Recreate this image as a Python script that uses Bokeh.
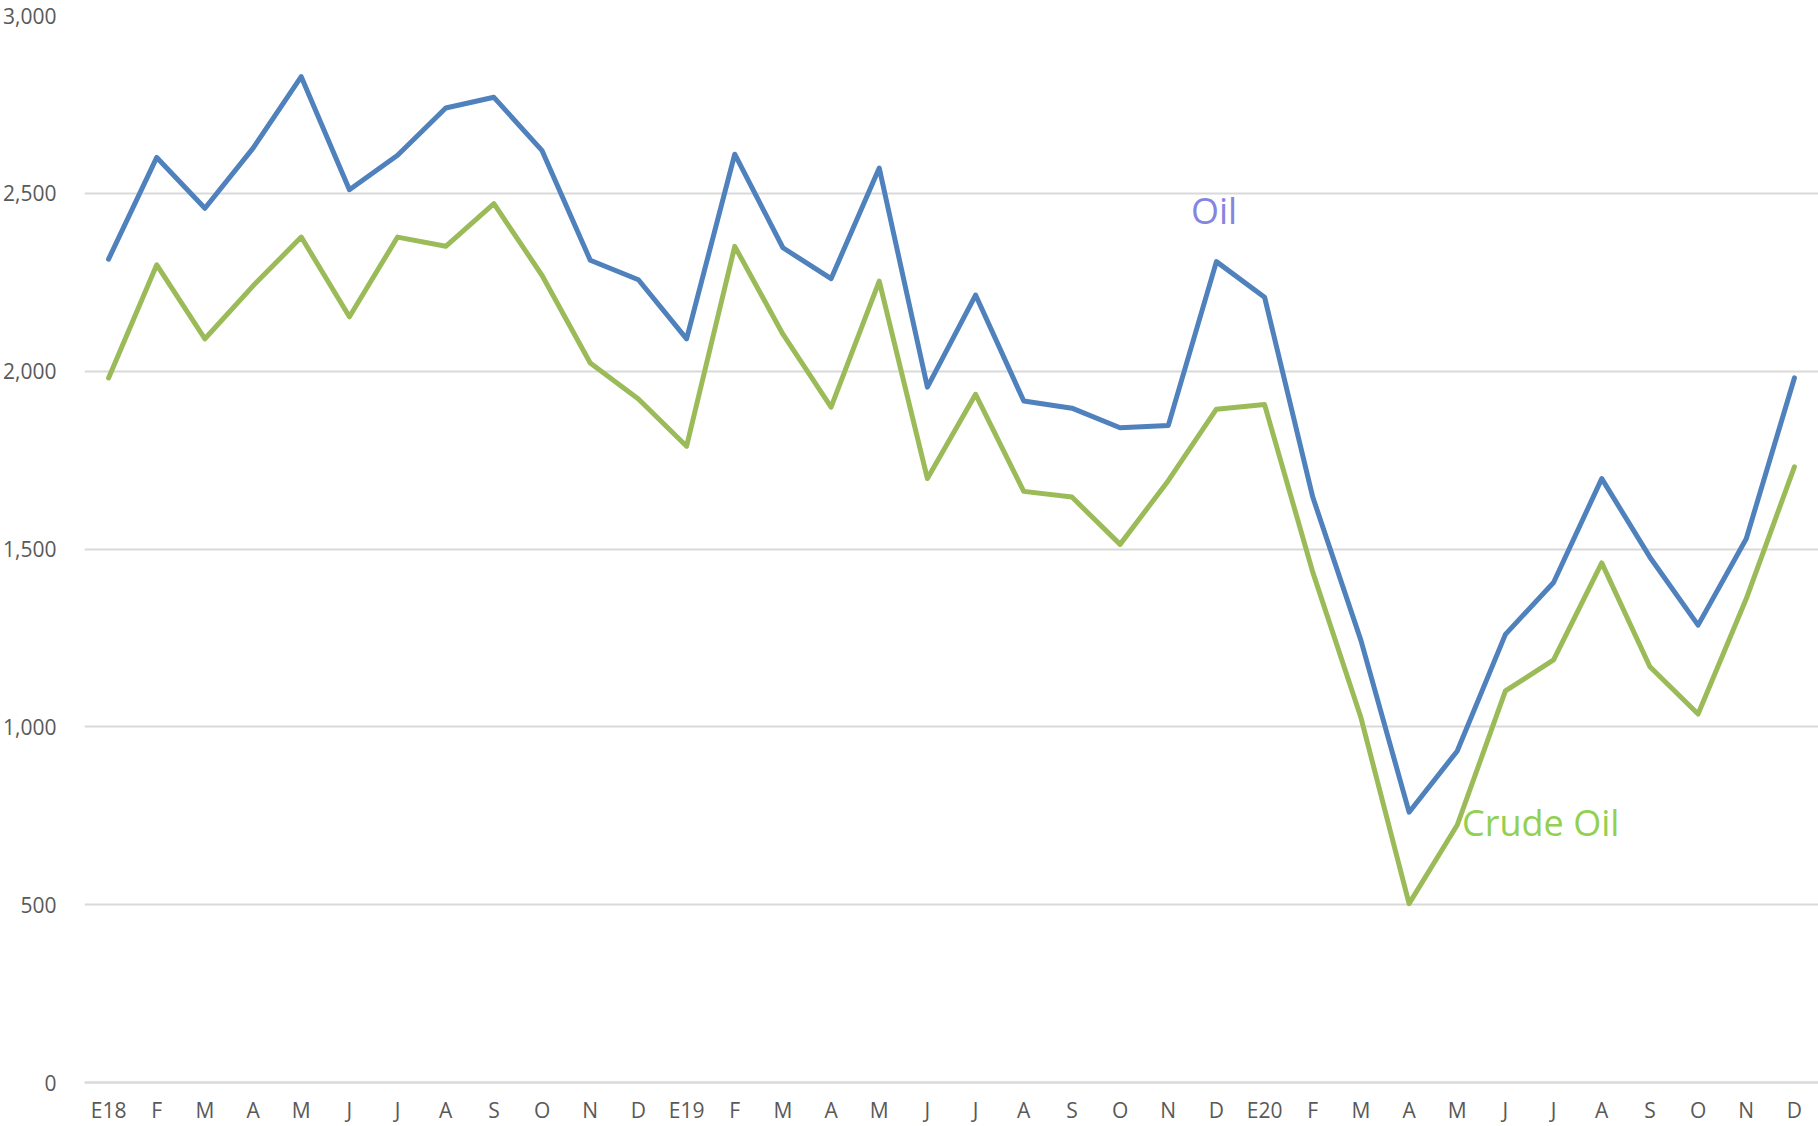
from bokeh.plotting import figure
from bokeh.models import Range1d, FixedTicker, NumeralTickFormatter, ColumnDataSource
from bokeh.core.properties import value
from bokeh.embed import file_html
from bokeh.resources import INLINE

months = ["E18", "F", "M", "A", "M", "J", "J", "A", "S", "O", "N", "D",
          "E19", "F", "M", "A", "M", "J", "J", "A", "S", "O", "N", "D",
          "E20", "F", "M", "A", "M", "J", "J", "A", "S", "O", "N", "D"]

oil = [2315, 2601, 2458, 2627, 2828, 2510, 2607, 2740, 2770, 2620, 2312, 2257,
       2091, 2610, 2347, 2260, 2571, 1955, 2214, 1916, 1896, 1841, 1847, 2308,
       2208, 1646, 1243, 760, 932, 1260, 1406, 1698, 1477, 1286, 1529, 1981]

crude_oil = [1981, 2299, 2091, 2240, 2377, 2153, 2377, 2351, 2471, 2269, 2023, 1922,
             1789, 2351, 2104, 1899, 2253, 1698, 1935, 1662, 1646, 1513, 1692, 1893,
             1906, 1435, 1026, 503, 724, 1101, 1188, 1461, 1169, 1036, 1360, 1731]

y_ticks = [0, 500, 1000, 1500, 2000, 2500, 3000]

idx = list(range(len(months)))
src = ColumnDataSource(dict(x=idx, oil=oil, crude=crude_oil))

FONT = "Open Sans"

W, H = 1818, 1126
TOP = 15          # frame top (value 3000)
ZERO_Y = 1082     # pixel row of value 0
Y_MIN = -(H - ZERO_Y) * 3000 / (ZERO_Y - TOP)

p = figure(width=W, height=H, output_backend="svg", toolbar_location=None,
           x_range=Range1d(-0.5, len(months) - 0.5), y_range=Range1d(Y_MIN, 3000),
           min_border_left=79, min_border_right=0, min_border_top=TOP, min_border_bottom=0)
p.outline_line_color = None
p.background_fill_color = "white"
p.border_fill_color = "white"

p.line("x", "oil", source=src, line_color="#4F81BD", line_width=5,
       line_join="round", line_cap="round")
p.line("x", "crude", source=src, line_color="#9BBB59", line_width=5,
       line_join="round", line_cap="round")

# series labels
p.text(x=[22.47], y=[2453], text=["Oil"], text_font=value(FONT), text_font_size="36px",
       text_color="#8585E0", text_baseline="middle", text_align="left")
p.text(x=[28.1], y=[730], text=["Crude Oil"], text_font=value(FONT), text_font_size="36px",
       text_color="#92D050", text_baseline="middle", text_align="left")

# x axis drawn at value 0
p.xaxis.fixed_location = 0
p.xaxis.ticker = FixedTicker(ticks=idx)
p.xaxis.major_label_overrides = {i: m for i, m in enumerate(months)}
p.xaxis.axis_line_color = "#D9D9D9"
p.xaxis.axis_line_width = 2
p.xaxis.major_tick_line_color = None
p.xaxis.minor_tick_line_color = None
p.xaxis.major_label_text_font = FONT
p.xaxis.major_label_text_font_size = "21px"
p.xaxis.major_label_text_color = "#595959"
p.xaxis.major_label_standoff = 7
p.xgrid.grid_line_color = None

# y axis
p.yaxis.ticker = FixedTicker(ticks=y_ticks)
p.yaxis.formatter = NumeralTickFormatter(format="0,0")
p.yaxis.axis_line_color = None
p.yaxis.major_tick_line_color = None
p.yaxis.minor_tick_line_color = None
p.yaxis.major_label_text_font = FONT
p.yaxis.major_label_text_font_size = "21px"
p.yaxis.major_label_text_color = "#595959"
p.yaxis.major_label_standoff = 22
p.ygrid.grid_line_color = "#D9D9D9"
p.ygrid.grid_line_width = 2

open("out.html", "w").write(file_html(p, INLINE))
